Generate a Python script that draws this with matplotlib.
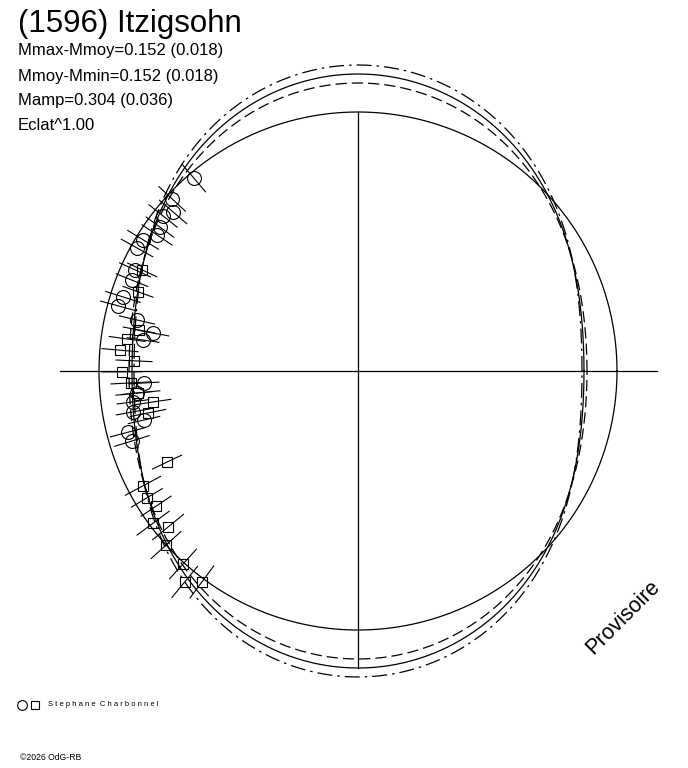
import matplotlib.pyplot as plt
import numpy as np

# polar lightcurve: angle = phase (deg), radius in plot units
circ_ang = [130.4, 137.2, 139.3, 141.5, 144.0, 145.9, 148.6, 150.9, 155.6, 158.1, 162.5,
            164.8, 167.0, 169.5, 171.8, 183.2, 185.7, 187.8, 190.3, 192.9, 194.9, 197.2]
circ_r = [253.3, 253.3, 243.9, 249.1, 244.8, 242.7, 251.8, 252.9, 244.8, 243.6, 246.4,
          248.6, 226.8, 208.5, 217.2, 214.3, 222.1, 227.1, 228.7, 219.5, 238.0, 236.6]
circ_err = [18, 18, 18, 18, 17, 18, 18, 18, 17, 17, 18,
            18, 18, 16, 16, 15, 16, 16, 17, 16, 18, 18]

sq_ang = [154.9, 160.2, 169.4, 172.1, 175.0, 177.4, 180.2, 183.0, 185.7, 188.6, 191.3,
          205.5, 208.1, 211.0, 213.8, 216.6, 219.4, 222.2, 227.8, 230.6, 233.5]
sq_r = [238.4, 233.8, 222.8, 233.2, 238.9, 224.2, 236.0, 227.3, 221.1, 207.3, 214.2,
        211.6, 243.8, 246.3, 243.0, 255.2, 245.8, 259.1, 260.5, 272.9, 262.4]
sq_err = [16, 16, 16, 18, 18, 18, 20, 20, 22, 18, 18,
          16, 20, 18, 18, 20, 20, 20, 20, 20, 20]

# fitted curve  r = mean + amp*cos(2*(theta-90))
fit_mean = [261.5, 265.0, 258.5]
fit_amp = [35.5, 41.0, 29.5]
fit_style = ['-', (0, (12, 4, 2, 4)), (0, (9, 4))]
ref_radius = 259.0

fig = plt.figure(figsize=(6.88, 7.68), dpi=100)
ax = fig.add_axes([0, 0, 1, 1])
ax.set_xlim(-358, 330)
ax.set_ylim(-397, 371)
ax.set_aspect('equal')
ax.axis('off')

th = np.radians(np.linspace(0, 360, 721))
ax.plot(ref_radius * np.cos(th), ref_radius * np.sin(th), color='k', lw=0.9)
for m, a, ls in zip(fit_mean, fit_amp, fit_style):
    r = m + a * np.cos(2 * (th - np.pi / 2))
    ax.plot(r * np.cos(th), r * np.sin(th), color='k', lw=0.9, linestyle=ls)

# axes cross
ax.plot([-298, 299], [0, 0], color='k', lw=0.9)
ax.plot([0, 0], [-fit_mean[0] - fit_amp[0], ref_radius], color='k', lw=0.9)


def draw_points(ang, rr, err, marker, size):
    t = np.radians(ang)
    rr = np.array(rr)
    err = np.array(err)
    for ti, ri, ei in zip(t, rr, err):
        ax.plot([(ri - ei) * np.cos(ti), (ri + ei) * np.cos(ti)],
                [(ri - ei) * np.sin(ti), (ri + ei) * np.sin(ti)], color='k', lw=0.8)
    ax.plot(rr * np.cos(t), rr * np.sin(t), linestyle='none', marker=marker,
            ms=size, mfc='none', mec='k', mew=0.8)


draw_points(circ_ang, circ_r, circ_err, 'o', 10)
draw_points(sq_ang, sq_r, sq_err, 's', 7)

font = 'Liberation Sans'
fig.text(18 / 688, 1 - 24 / 768, '(1596) Itzigsohn', fontsize=22.5, family=font, va='center')
info = ['Mmax-Mmoy=0.152 (0.018)', 'Mmoy-Mmin=0.152 (0.018)', 'Mamp=0.304 (0.036)', 'Eclat^1.00']
for i, s in enumerate(info):
    fig.text(18 / 688, 1 - (51 + 25 * i) / 768, s, fontsize=12, family=font, va='center')

fig.text(623 / 688, 1 - 617 / 768, 'Provisoire', fontsize=15.5, family=font, rotation=45,
         ha='center', va='center')

fig.lines.append(plt.Line2D([22 / 688], [1 - 705 / 768], transform=fig.transFigure,
                            marker='o', ms=7, mfc='none', mec='k', mew=0.8))
fig.lines.append(plt.Line2D([35 / 688], [1 - 705 / 768], transform=fig.transFigure,
                            marker='s', ms=5.5, mfc='none', mec='k', mew=0.8))
fig.text(48 / 688, 1 - 705 / 768, 'S t e p h a n e  C h a r b o n n e l', fontsize=5.5,
         family=font, va='center')
fig.text(20 / 688, 1 - 758 / 768, '\u00a92026 OdG-RB', fontsize=6.2, family=font, va='center')

fig.savefig('out.png', dpi=100, facecolor='white')
